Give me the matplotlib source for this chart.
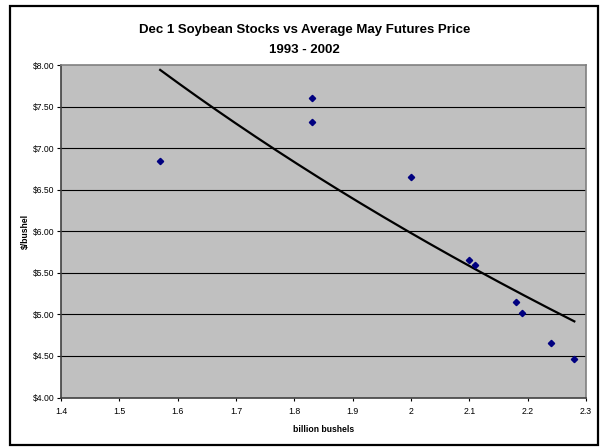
import numpy as np
import matplotlib
matplotlib.use("Agg")
import matplotlib.pyplot as plt
from matplotlib.patches import Rectangle

# Data
stocks = [1.57, 1.83, 1.83, 2.00, 2.10, 2.11, 2.18, 2.19, 2.24, 2.28]   # billion bushels
prices = [6.84, 7.60, 7.32, 6.65, 5.65, 5.60, 5.15, 5.02, 4.65, 4.46]   # $/bushel
x_ticks = [1.4, 1.5, 1.6, 1.7, 1.8, 1.9, 2.0, 2.1, 2.2, 2.3]
x_tick_labels = ["1.4", "1.5", "1.6", "1.7", "1.8", "1.9", "2", "2.1", "2.2", "2.3"]
y_ticks = [4.0, 4.5, 5.0, 5.5, 6.0, 6.5, 7.0, 7.5, 8.0]
y_tick_labels = ["$4.00", "$4.50", "$5.00", "$5.50", "$6.00", "$6.50", "$7.00", "$7.50", "$8.00"]
title_line1 = "Dec 1 Soybean Stocks vs Average May Futures Price"
title_line2 = "1993 - 2002"

plt.rcParams['font.family'] = ['Liberation Sans', 'DejaVu Sans']

W, H = 600, 447
fig = plt.figure(figsize=(W / 100, H / 100), dpi=100)
fig.patch.set_facecolor("white")

ax = fig.add_axes([61 / W, 1 - 397.5 / H, (586 - 61) / W, (397.5 - 65) / H])
ax.set_facecolor("#C0C0C0")

ax.set_xlim(1.4, 2.3)
ax.set_ylim(4.0, 8.0)
ax.set_xticks(x_ticks)
ax.set_xticklabels(x_tick_labels)
ax.set_yticks(y_ticks)
ax.set_yticklabels(y_tick_labels)

for yv in y_ticks[1:-1]:
    ax.axhline(yv, color="black", lw=0.8, zorder=1)

# logarithmic trendline fitted to the data
xs = np.array(stocks)
ys = np.array(prices)
a, b = np.polyfit(np.log(xs), ys, 1)
xt = np.linspace(xs.min(), xs.max(), 200)
ax.plot(xt, a * np.log(xt) + b, color="black", lw=1.6, zorder=3)

ax.plot(stocks, prices, linestyle="none", marker="D", markersize=3.2,
        color="#000080", zorder=4)

for s in ["top", "right"]:
    ax.spines[s].set_color("#808080")
    ax.spines[s].set_linewidth(1.2)
for s in ["left", "bottom"]:
    ax.spines[s].set_color("#404040")
    ax.spines[s].set_linewidth(1.2)

ax.tick_params(axis="x", direction="out", length=2.5, width=0.8, pad=4.5,
               labelsize=6.3, colors="black")
ax.tick_params(axis="y", direction="out", length=3, width=0.8, pad=1.5,
               labelsize=6.2, colors="black")

fig.text(324 / W, 1 - 429 / H, "billion bushels", ha="center", va="center",
         fontsize=6.2, fontweight="bold")
fig.text(25 / W, 1 - 231 / H, "$/bushel", ha="center", va="center",
         rotation=90, fontsize=6.2, fontweight="bold")

fig.text(305 / W, 1 - 30 / H, title_line1, ha="center", va="center",
         fontsize=9.5, fontweight="bold")
fig.text(304 / W, 1 - 50 / H, title_line2, ha="center", va="center",
         fontsize=9.5, fontweight="bold")

frame = Rectangle((10 / W, 1 - 445 / H), (598 - 10) / W, (445 - 5.5) / H,
                  transform=fig.transFigure, fill=False, edgecolor="black",
                  lw=1.6, zorder=10)
fig.patches.append(frame)

fig.savefig("out.png", dpi=100, facecolor="white")
